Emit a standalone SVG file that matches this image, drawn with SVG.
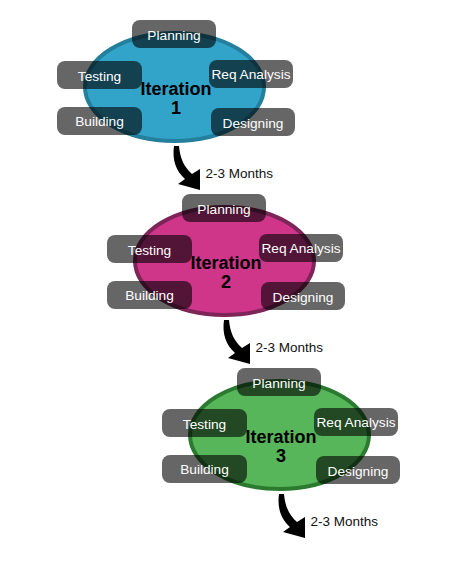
<svg xmlns="http://www.w3.org/2000/svg" xmlns:xlink="http://www.w3.org/1999/xlink" width="459" height="561" viewBox="0 0 459 561">
<style>
.ell{stroke-width:4}
.e1{fill:#32a4c9;stroke:#247f9c}
.e2{fill:#cf3589;stroke:#7d2459}
.e3{fill:#56b659;stroke:#2b7a30}
.box{fill:#000;fill-opacity:0.6}
.bt{font-family:"Liberation Sans",Arial,sans-serif;font-size:13.7px;fill:#fff;text-anchor:middle}
.it{font-family:"Liberation Sans",Arial,sans-serif;font-size:18px;font-weight:bold;fill:#000;text-anchor:middle}
.lbl{font-family:"Liberation Sans",Arial,sans-serif;font-size:13.5px;fill:#111}
.arr{fill:#000}
</style>
<defs>
<path id="arrowShape" d="M174,146 C172,160 176,171 185,179 L178,184 L200,190 L200,169 L192,174 C184,167 180,158 179,146 Z"/>
</defs>
<g id="connectors">
<g id="arrow1"><use xlink:href="#arrowShape" class="arr"/><text class="lbl" x="205.5" y="177.5">2-3 Months</text></g>
<g id="arrow2" transform="translate(50,174)"><use xlink:href="#arrowShape" class="arr"/><text class="lbl" x="205.5" y="177.5">2-3 Months</text></g>
<g id="arrow3" transform="translate(105,348)"><use xlink:href="#arrowShape" class="arr"/><text class="lbl" x="205.5" y="177.5">2-3 Months</text></g>
</g>
<g id="iteration1">
<ellipse class="ell e1" cx="174.5" cy="87" rx="89.5" ry="54"/>
<g id="planning1"><rect class="box" x="132" y="20" width="84" height="28" rx="8"/><text class="bt" x="174" y="39.5">Planning</text></g>
<g id="testing1"><rect class="box" x="57" y="61" width="85" height="28" rx="8"/><text class="bt" x="99.5" y="80.5">Testing</text></g>
<g id="req1"><rect class="box" x="209" y="60" width="84" height="28" rx="8"/><text class="bt" x="251" y="79">Req Analysis</text></g>
<g id="building1"><rect class="box" x="57" y="107" width="85" height="28" rx="8"/><text class="bt" x="99.5" y="125.5">Building</text></g>
<g id="designing1"><rect class="box" x="211" y="108" width="84" height="28" rx="8"/><text class="bt" x="253" y="128">Designing</text></g>
<text class="it" x="176" y="95">Iteration</text><text class="it" x="176" y="114">1</text>
</g>
<g id="iteration2" transform="translate(50,174)">
<ellipse class="ell e2" cx="174.5" cy="87" rx="89.5" ry="54"/>
<g id="planning2"><rect class="box" x="132" y="20" width="84" height="28" rx="8"/><text class="bt" x="174" y="39.5">Planning</text></g>
<g id="testing2"><rect class="box" x="57" y="61" width="85" height="28" rx="8"/><text class="bt" x="99.5" y="80.5">Testing</text></g>
<g id="req2"><rect class="box" x="209" y="60" width="84" height="28" rx="8"/><text class="bt" x="251" y="79">Req Analysis</text></g>
<g id="building2"><rect class="box" x="57" y="107" width="85" height="28" rx="8"/><text class="bt" x="99.5" y="125.5">Building</text></g>
<g id="designing2"><rect class="box" x="211" y="108" width="84" height="28" rx="8"/><text class="bt" x="253" y="128">Designing</text></g>
<text class="it" x="176" y="95">Iteration</text><text class="it" x="176" y="114">2</text>
</g>
<g id="iteration3" transform="translate(105,348)">
<ellipse class="ell e3" cx="174.5" cy="87" rx="89.5" ry="54"/>
<g id="planning3"><rect class="box" x="132" y="20" width="84" height="28" rx="8"/><text class="bt" x="174" y="39.5">Planning</text></g>
<g id="testing3"><rect class="box" x="57" y="61" width="85" height="28" rx="8"/><text class="bt" x="99.5" y="80.5">Testing</text></g>
<g id="req3"><rect class="box" x="209" y="60" width="84" height="28" rx="8"/><text class="bt" x="251" y="79">Req Analysis</text></g>
<g id="building3"><rect class="box" x="57" y="107" width="85" height="28" rx="8"/><text class="bt" x="99.5" y="125.5">Building</text></g>
<g id="designing3"><rect class="box" x="211" y="108" width="84" height="28" rx="8"/><text class="bt" x="253" y="128">Designing</text></g>
<text class="it" x="176" y="95">Iteration</text><text class="it" x="176" y="114">3</text>
</g>
</svg>
